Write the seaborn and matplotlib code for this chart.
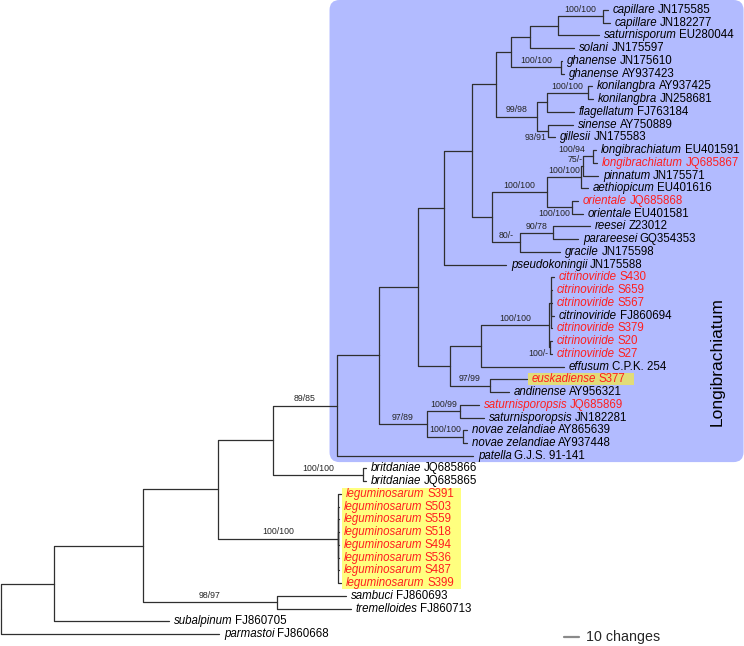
import matplotlib
matplotlib.use('Agg')
import matplotlib.pyplot as plt
from matplotlib.patches import FancyBboxPatch, Rectangle
from matplotlib.transforms import Bbox
import pandas as pd
import seaborn as sns

# ---- tips, top to bottom ----
species = ['capillare', 'capillare', 'saturnisporum', 'solani', 'ghanense', 'ghanense',
           'konilangbra', 'konilangbra', 'flagellatum', 'sinense', 'gillesii',
           'longibrachiatum', 'longibrachiatum', 'pinnatum', 'aethiopicum',
           'orientale', 'orientale', 'reesei', 'parareesei', 'gracile', 'pseudokoningii',
           'citrinoviride', 'citrinoviride', 'citrinoviride', 'citrinoviride',
           'citrinoviride', 'citrinoviride', 'citrinoviride', 'effusum',
           'euskadiense', 'andinense', 'saturnisporopsis', 'saturnisporopsis',
           'novae zelandiae', 'novae zelandiae', 'patella', 'britdaniae', 'britdaniae',
           'leguminosarum', 'leguminosarum', 'leguminosarum', 'leguminosarum',
           'leguminosarum', 'leguminosarum', 'leguminosarum', 'leguminosarum',
           'sambuci', 'tremelloides', 'subalpinum', 'parmastoi']
accession = ['JN175585', 'JN182277', 'EU280044', 'JN175597', 'JN175610', 'AY937423',
             'AY937425', 'JN258681', 'FJ763184', 'AY750889', 'JN175583',
             'EU401591', 'JQ685867', 'JN175571', 'EU401616',
             'JQ685868', 'EU401581', 'Z23012', 'GQ354353', 'JN175598', 'JN175588',
             'S430', 'S659', 'S567', 'FJ860694', 'S379', 'S20', 'S27', 'C.P.K. 254',
             'S377', 'AY956321', 'JQ685869', 'JN182281', 'AY865639', 'AY937448',
             'G.J.S. 91-141', 'JQ685866', 'JQ685865',
             'S391', 'S503', 'S559', 'S518', 'S494', 'S536', 'S487', 'S399',
             'FJ860693', 'FJ860713', 'FJ860705', 'FJ860668']
# tip depth (changes from root)
tip_depth = [404.7, 406.0, 398.7, 382.0, 374.0, 375.3, 394.0, 394.7, 382.0, 381.3, 369.3,
             396.7, 397.3, 398.0, 391.3, 384.7, 388.0, 392.7, 384.7, 372.7, 336.7,
             368.7, 367.3, 367.3, 368.7, 367.3, 367.3, 367.3, 375.3,
             350.7, 338.7, 318.7, 322.0, 310.7, 310.7, 314.7, 243.3, 243.3,
             226.7, 225.3, 225.3, 225.3, 225.3, 225.3, 225.3, 226.7,
             230.0, 233.3, 112.0, 145.3]
new_strain = [i in (12, 15, 21, 22, 23, 25, 26, 27, 29, 31) or 38 <= i <= 45
              for i in range(len(species))]

# ---- internal nodes: name, depth, children (int = tip index) ----
node_name = ['root', 'A', 'B', 'C', 'D', 'E', 'F', 'G', 'H', 'I', 'J', 'K', 'L', 'M',
             'N', 'O', 'P', 'Q', 'R1', 'R2', 'R4', 'S', 'T', 'U', 'V', 'W', 'X', 'Y',
             'Z', 'GH', 'AA', 'KO', 'AB', 'AC', 'AD', 'AE', 'AF', 'ON', 'AG', 'AH']
node_depth = [0, 35.3, 94.7, 144.7, 184.0, 181.3, 224.7, 224.0, 241.3, 252.0, 278.0,
              284.0, 306.0, 308.0, 295.3, 299.3, 320.0, 326.0, 365.3, 366.7, 366.0,
              314.0, 330.0, 327.3, 340.0, 357.3, 352.7, 371.3, 401.3, 373.3, 364.0,
              391.3, 364.7, 364.0, 386.7, 388.0, 394.7, 380.7, 346.0, 368.0]
node_children = [['A', 49], ['B', 48], ['C', 'D'], ['E', 'F'], [46, 47], ['G', 'H'],
                 list(range(38, 46)), ['I', 35], [36, 37], ['J', 'K'], ['N', 'O'],
                 ['L', 'M'], [31, 32], [33, 34], ['S', 20], ['P', 'Q'], ['R1', 28],
                 [29, 30], ['R2', 'R4'], [21, 22, 23, 24, 25], [26, 27], ['T', 'U'],
                 ['V', 'W'], ['AC', 'AG'], ['X', 'GH'], ['AA', 'AB'], ['Y', 3],
                 ['Z', 2], [0, 1], [4, 5], ['KO', 8], [6, 7], [9, 10], ['AD', 'ON'],
                 ['AE', 14], ['AF', 13], [11, 12], [15, 16], ['AH', 19], [17, 18]]
# bootstrap support: node -> (text, placement)
support = {'Z': ('100/100', 'a'), 'GH': ('100/100', 'a'), 'KO': ('100/100', 'a'),
           'W': ('99/98', 'a'), 'AB': ('93/91', 'b'), 'AF': ('100/94', 'ar'),
           'AE': ('75/-', 'ar'), 'AD': ('100/100', 'a'), 'AC': ('100/100', 'a'),
           'ON': ('100/100', 'b'), 'AG': ('80/-', 'a'), 'AH': ('90/78', 'a'),
           'R1': ('100/100', 'a'), 'R4': ('100/-', 'b'), 'Q': ('97/99', 'a'),
           'L': ('100/99', 'a'), 'M': ('100/100', 'a'), 'K': ('97/89', 'a'),
           'G': ('89/85', 'a'), 'H': ('100/100', 'a'), 'F': ('100/100', 'a'),
           'D': ('98/97', 'a')}
clade_node = 'G'
clade_label = 'Longibrachiatum'
scale_start, scale_len = 375, 10

RED = '#ff1f1f'
LINE = '#2f2f2f'

sns.set_theme(style='white')
plt.rcParams['font.family'] = ['Liberation Sans', 'DejaVu Sans']

depth = dict(zip(node_name, node_depth))
kids = dict(zip(node_name, node_children))
parent = {c: n for n, cs in kids.items() for c in cs if isinstance(c, str)}


def xy(c):
    if isinstance(c, int):
        return tip_depth[c], float(c)
    return depth[c], ypos(c)


def ypos(n):
    ys = [xy(c)[1] for c in kids[n]]
    return (min(ys) + max(ys)) / 2


def tips_of(n):
    out = []
    for c in kids[n]:
        out += [c] if isinstance(c, int) else tips_of(c)
    return out


rows = []
eid = 0
for n in node_name:
    px, py = depth[n], ypos(n)
    for c in kids[n]:
        cx, cy = xy(c)
        for x, y in [(px, py), (px, cy), (cx, cy)]:
            rows.append({'edge': eid, 'x': x, 'y': y})
        eid += 1
edges = pd.DataFrame(rows)

fig = plt.figure(figsize=(7.44, 6.46), dpi=100)
ax = fig.add_axes([0, 0, 1, 1])
sns.lineplot(data=edges, x='x', y='y', units='edge', estimator=None, sort=False,
             color=LINE, lw=0.9, legend=False, ax=ax, zorder=3)
ax.set_xlim(-0.67, 495.3)
ax.set_ylim(49.94, -0.785)
ax.set_axis_off()

# clade box
ct = tips_of(clade_node)
bx0 = depth[clade_node] - 5
by0, by1 = min(ct) - 0.785, max(ct) + 0.5
box = FancyBboxPatch((bx0, by0), 495.0 - bx0, by1 - by0,
                     boxstyle='round,pad=0,rounding_size=6.7',
                     mutation_aspect=1.5 / 12.735, fc='#b2bbff', ec='none', zorder=0)
ax.add_patch(box)
ax.text(477.3, 27.6, clade_label, rotation=90, ha='center', va='center',
        fontsize=12.5, color='black')

# tip labels
labels = []
for i in range(len(species)):
    col = RED if new_strain[i] else 'black'
    t = ax.text(tip_depth[i] + 3.3, i, species[i], style='italic', ha='left',
                va='center', fontsize=8.3, color=col, zorder=4)
    a = ax.annotate(accession[i], xy=(1, 0.5), xycoords=t, xytext=(1.8, 0),
                    textcoords='offset points', ha='left', va='center',
                    fontsize=8.3, color=col, zorder=4)
    labels.append((t, a))

# support values
for n, (txt, where) in support.items():
    px, nx, ny = depth[parent[n]], depth[n], ypos(n)
    if where == 'a':
        ax.text((px + nx) / 2, ny - 0.53, txt, ha='center', va='center', fontsize=6.3)
    elif where == 'ar':
        ax.text(px + 1.3, ny - 0.53, txt, ha='right', va='center', fontsize=6.3)
    else:
        ax.text(nx - 1.3, ny + 0.5, txt, ha='right', va='center', fontsize=6.3)

# scale bar
ax.plot([scale_start, scale_start + scale_len], [49.2, 49.2], color='#8a8a8a', lw=1.6)
ax.text(scale_start + scale_len + 5.3, 49.2, f'{scale_len} changes', ha='left',
        va='center', fontsize=10.3)

# highlight boxes behind label groups
fig.canvas.draw()
r = fig.canvas.get_renderer()
inv = ax.transData.inverted()


def highlight(idx, color, pad):
    ext = []
    for i in idx:
        ext += [labels[i][0].get_window_extent(r), labels[i][1].get_window_extent(r)]
    bb = Bbox.union(ext)
    (x0, y0), (x1, y1) = inv.transform([(bb.x0 - pad[0], bb.y0 - pad[3]),
                                        (bb.x1 + pad[1], bb.y1 + pad[2])])
    ax.add_patch(Rectangle((x0, min(y0, y1)), x1 - x0, abs(y1 - y0), fc=color,
                           ec='none', zorder=1))


highlight(range(38, 46), '#ffff7f', (2, 7, 0, 0))
highlight([29], '#e2dc78', (4, 8, 0, 0))

fig.savefig('out.png', dpi=100)
